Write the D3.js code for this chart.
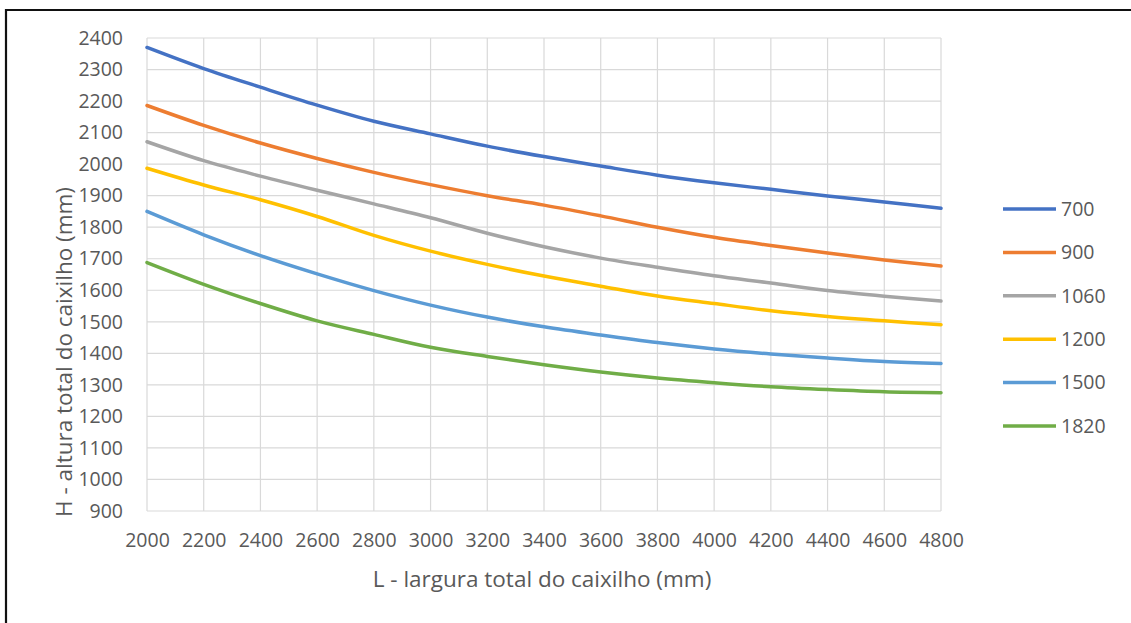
<!DOCTYPE html>
<html>
<head>
<meta charset="utf-8">
<script src="https://cdn.jsdelivr.net/npm/d3@7"></script>
<style>
  html, body { margin: 0; padding: 0; background: #fff; }
  svg { display: block; }
</style>
</head>
<body>
<svg id="chart" width="1131" height="623"></svg>
<script>
// ---- data ----
const widths = [2000, 2200, 2400, 2600, 2800, 3000, 3200, 3400, 3600, 3800, 4000, 4200, 4400, 4600, 4800];
const seriesNames = ["700", "900", "1060", "1200", "1500", "1820"];
const h700  = [2370, 2303, 2244, 2187, 2136, 2096, 2057, 2024, 1994, 1965, 1941, 1920, 1899, 1880, 1860];
const h900  = [2186, 2123, 2067, 2018, 1974, 1935, 1900, 1870, 1836, 1800, 1768, 1742, 1718, 1696, 1677];
const h1060 = [2071, 2011, 1962, 1917, 1874, 1830, 1781, 1738, 1702, 1673, 1646, 1623, 1599, 1581, 1566];
const h1200 = [1987, 1934, 1887, 1834, 1774, 1724, 1682, 1645, 1613, 1582, 1558, 1535, 1517, 1503, 1491];
const h1500 = [1850, 1776, 1710, 1652, 1599, 1553, 1515, 1484, 1458, 1434, 1414, 1398, 1385, 1374, 1368];
const h1820 = [1688, 1619, 1558, 1503, 1460, 1419, 1390, 1364, 1341, 1322, 1307, 1294, 1285, 1278, 1275];
const seriesValues = [h700, h900, h1060, h1200, h1500, h1820];
const colors = ["#4472C4", "#ED7D31", "#A5A5A5", "#FFC000", "#5B9BD5", "#70AD47"];
const xTicks = [2000, 2200, 2400, 2600, 2800, 3000, 3200, 3400, 3600, 3800, 4000, 4200, 4400, 4600, 4800];
const yTicks = [900, 1000, 1100, 1200, 1300, 1400, 1500, 1600, 1700, 1800, 1900, 2000, 2100, 2200, 2300, 2400];
const xTitle = "L - largura total do caixilho (mm)";
const yTitle = "H - altura total do caixilho (mm)";

// ---- layout ----
const svg = d3.select("#chart");
const font = "'Open Sans', 'Liberation Sans', sans-serif";
const textColor = "#595959";
const tickFont = 19.5;
const titleFont = 22.5;

// outer border
svg.append("path")
  .attr("d", "M6,623 L6,10 L1131,10")
  .attr("fill", "none").attr("stroke", "#111").attr("stroke-width", 2.2);

const x = d3.scaleLinear().domain([2000, 4800]).range([147, 941]);
const y = d3.scaleLinear().domain([900, 2400]).range([511, 38]);

// grid
const grid = svg.append("g");
grid.selectAll("line.v").data(xTicks).join("line")
  .attr("x1", d => x(d)).attr("x2", d => x(d))
  .attr("y1", y(2400)).attr("y2", y(900))
  .attr("stroke", "#d9d9d9").attr("stroke-width", 1.2);
grid.selectAll("line.h").data(yTicks).join("line")
  .attr("y1", d => y(d)).attr("y2", d => y(d))
  .attr("x1", x(2000)).attr("x2", x(4800))
  .attr("stroke", "#d9d9d9").attr("stroke-width", 1.2);

// axes (labels only)
const xAxis = d3.axisBottom(x).tickValues(xTicks).tickSize(0).tickPadding(22).tickFormat(d3.format("d"));
const gx = svg.append("g").attr("transform", `translate(0,${y(900)})`).call(xAxis);
gx.select(".domain").remove();
gx.selectAll("text").attr("font-family", font).attr("font-size", tickFont).attr("fill", textColor);

const yAxis = d3.axisLeft(y).tickValues(yTicks).tickSize(0).tickPadding(24).tickFormat(d3.format("d"));
const gy = svg.append("g").attr("transform", `translate(${x(2000)},0)`).call(yAxis);
gy.select(".domain").remove();
gy.selectAll("text").attr("font-family", font).attr("font-size", tickFont).attr("fill", textColor);

// titles
svg.append("text").text(xTitle)
  .attr("x", 542).attr("y", 587)
  .attr("text-anchor", "middle")
  .attr("font-family", font).attr("font-size", titleFont).attr("fill", textColor);
svg.append("text").text(yTitle)
  .attr("transform", `translate(72,352) rotate(-90)`)
  .attr("text-anchor", "middle")
  .attr("font-family", font).attr("font-size", titleFont).attr("fill", textColor);

// lines
const line = d3.line()
  .x((d, i) => x(widths[i]))
  .y(d => y(d))
  .curve(d3.curveCatmullRom.alpha(0.5));
svg.append("g").selectAll("path").data(seriesValues).join("path")
  .attr("d", d => line(d))
  .attr("fill", "none")
  .attr("stroke", (d, i) => colors[i])
  .attr("stroke-width", 3.5)
  .attr("stroke-linecap", "round");

// legend
const legend = svg.append("g");
const lg = legend.selectAll("g").data(seriesNames).join("g")
  .attr("transform", (d, i) => `translate(1003,${209 + i * 43.4})`);
lg.append("line")
  .attr("x1", 0).attr("x2", 53).attr("y1", 0).attr("y2", 0)
  .attr("stroke", (d, i) => colors[i]).attr("stroke-width", 3.5);
lg.append("text").text(d => d)
  .attr("x", 58).attr("y", 0).attr("dy", "0.35em")
  .attr("font-family", font).attr("font-size", tickFont).attr("fill", textColor);
</script>
</body>
</html>
